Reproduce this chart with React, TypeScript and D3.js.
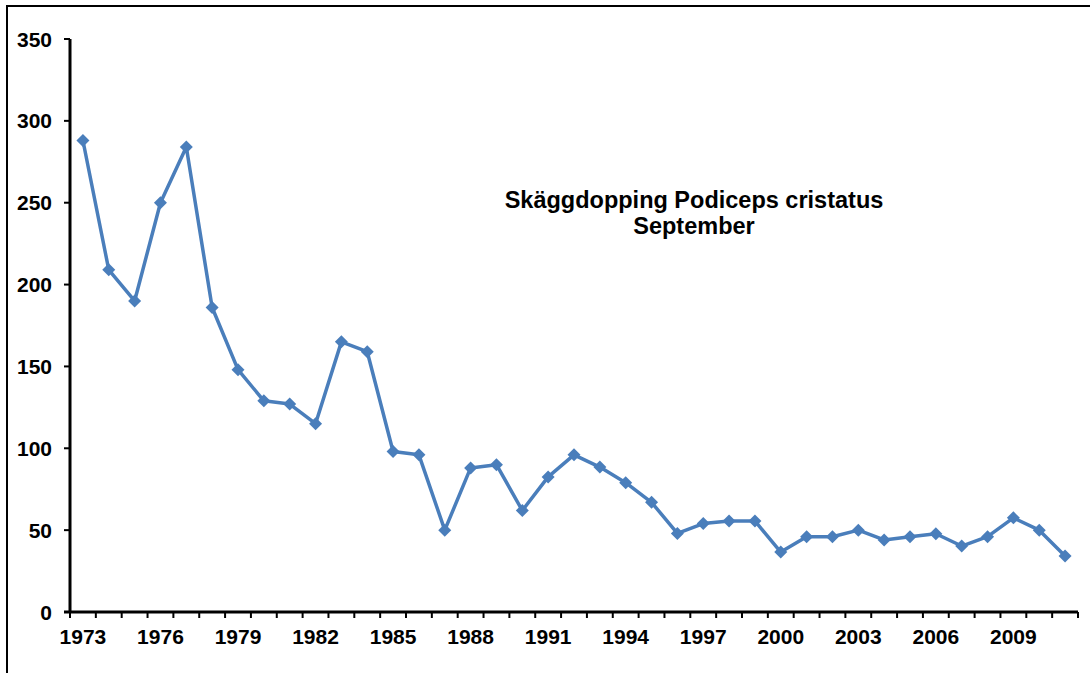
import React from "react";
import * as d3 from "d3";

const years: number[] = d3.range(1973, 2012);
const counts: number[] = [
  288, 209, 190, 250, 284, 186, 148, 129, 127, 115,
  165, 159, 98, 96, 50, 88, 90, 62, 82.5, 96,
  88.5, 79, 67, 48, 54, 55.6, 55.6, 36.6, 46, 46,
  50, 44, 46, 47.8, 40.3, 46, 57.5, 50, 34.2,
];
const yTicks: number[] = [0, 50, 100, 150, 200, 250, 300, 350];
const titleLines: string[] = ["Skäggdopping Podiceps cristatus", "September"];

const W = 1090;
const H = 673;
const left = 70;
const right = 1078;
const top = 39;
const bottom = 612;
const color = "#4A7EBB";
const font = "'Liberation Sans', Arial, sans-serif";

export default function App() {
  const x = d3.scaleBand<number>().domain(years).range([left, right]).paddingInner(0).paddingOuter(0);
  const y = d3.scaleLinear().domain([0, 350]).range([bottom, top]);
  const cx = (yr: number) => (x(yr) as number) + x.bandwidth() / 2;
  const line = d3
    .line<number>()
    .x((_, i) => cx(years[i]))
    .y((d) => y(d));
  const tickXs = years.map((yr) => x(yr) as number).concat([right]);
  const labelYears = years.filter((yr) => (yr - 1973) % 3 === 0);
  const dm = 6.5;

  return (
    <svg width={W} height={H} style={{ position: "absolute", left: 0, top: 0, display: "block" }}>
      <rect x={0} y={0} width={W} height={H} fill="#fff" />
      <rect x={7} y={6} width={W + 20} height={H + 20} fill="none" stroke="#000" strokeWidth={2} />
      {/* y axis */}
      <line x1={left} x2={left} y1={top} y2={bottom + 1} stroke="#000" strokeWidth={3} />
      {yTicks.map((t) => (
        <g key={t}>
          <line x1={left - 6} x2={left} y1={y(t)} y2={y(t)} stroke="#000" strokeWidth={2} />
          <text
            x={52}
            y={y(t)}
            dy="0.36em"
            textAnchor="end"
            fontFamily={font}
            fontWeight="bold"
            fontSize={21}
            fill="#000"
          >
            {t}
          </text>
        </g>
      ))}
      {/* x axis */}
      <line x1={left - 6} x2={right} y1={bottom} y2={bottom} stroke="#000" strokeWidth={3} />
      {tickXs.map((tx, i) => (
        <line key={i} x1={tx} x2={tx} y1={bottom} y2={bottom + 6} stroke="#000" strokeWidth={2} />
      ))}
      {labelYears.map((yr) => (
        <text
          key={yr}
          x={cx(yr)}
          y={644}
          textAnchor="middle"
          fontFamily={font}
          fontWeight="bold"
          fontSize={21}
          fill="#000"
        >
          {yr}
        </text>
      ))}
      {/* series */}
      <path d={line(counts) || ""} fill="none" stroke={color} strokeWidth={3.5} strokeLinejoin="round" />
      {counts.map((v, i) => {
        const px = cx(years[i]);
        const py = y(v);
        return (
          <path
            key={i}
            d={`M${px},${py - dm}L${px + dm},${py}L${px},${py + dm}L${px - dm},${py}Z`}
            fill={color}
          />
        );
      })}
      {/* title */}
      {titleLines.map((t, i) => (
        <text
          key={i}
          x={694}
          y={208 + i * 26}
          textAnchor="middle"
          fontFamily={font}
          fontWeight="bold"
          fontSize={23.5}
          fill="#000"
        >
          {t}
        </text>
      ))}
    </svg>
  );
}
